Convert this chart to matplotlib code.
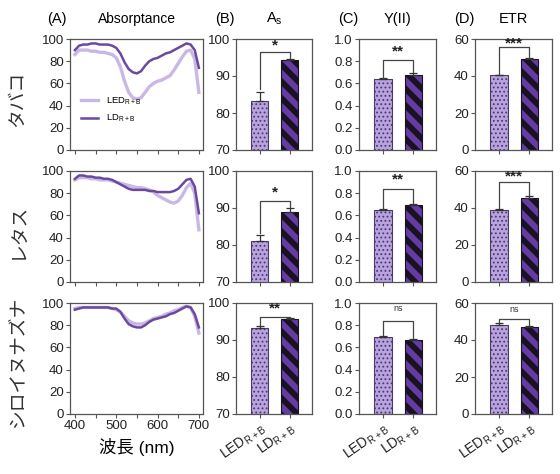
import numpy as np
import matplotlib
matplotlib.use("Agg")
import matplotlib.pyplot as plt

plt.rcParams["font.family"] = ["Liberation Sans", "Noto Sans CJK JP", "DejaVu Sans"]
plt.rcParams["axes.linewidth"] = 0.9
plt.rcParams["axes.edgecolor"] = "#555555"
plt.rcParams["xtick.color"] = "#555555"
plt.rcParams["ytick.color"] = "#555555"
plt.rcParams["xtick.labelcolor"] = "#222222"
plt.rcParams["ytick.labelcolor"] = "#222222"

LED_LINE = "#c9b8e4"
LD_LINE = "#6b4a9e"
LED_BAR = "#b9a2e0"
LD_BAR = "#643ca2"

species = ["タバコ", "レタス", "シロイヌナズナ"]
groups = ["LED$_{\\mathregular{R+B}}$", "LD$_{\\mathregular{R+B}}$"]

wavelength = [400, 410, 420, 430, 440, 450, 460, 470, 480, 490, 500,
              510, 520, 530, 540, 550, 560, 570, 580, 590, 600,
              610, 620, 630, 640, 650, 660, 670, 680, 690, 700]

tobacco_led = [86, 90, 90, 90, 89, 89, 88, 88, 87, 86, 83,
               75, 62, 52, 47, 46, 47, 52, 57, 60, 62,
               63, 65, 67, 72, 78, 84, 89, 90, 82, 52]
tobacco_ld = [90, 94, 95, 95, 96, 96, 95, 95, 95, 94, 92,
              87, 79, 73, 70, 69, 71, 76, 80, 82, 83,
              85, 87, 88, 90, 92, 94, 96, 95, 90, 74]
lettuce_led = [92, 94, 94, 94, 93, 93, 92, 92, 92, 91, 90,
               89, 88, 87, 86, 85, 85, 84, 83, 81, 78,
               76, 74, 72, 71, 73, 78, 85, 89, 80, 47]
lettuce_ld = [93, 96, 96, 95, 95, 94, 94, 93, 93, 92, 90,
              88, 86, 84, 83, 83, 83, 83, 82, 82, 81,
              81, 81, 81, 82, 84, 88, 92, 93, 86, 62]
arabid_led = [95, 96, 96, 96, 96, 96, 96, 96, 96, 95, 94,
              92, 88, 84, 82, 81, 81, 82, 84, 86, 87,
              88, 90, 91, 93, 94, 96, 97, 96, 88, 73]
arabid_ld = [94, 95, 96, 96, 96, 96, 96, 96, 96, 95, 95,
             92, 86, 81, 79, 78, 78, 80, 83, 85, 86,
             87, 88, 90, 91, 93, 95, 97, 96, 90, 78]
absorb_led = [tobacco_led, lettuce_led, arabid_led]
absorb_ld = [tobacco_ld, lettuce_ld, arabid_ld]

# bar means / SE per species: [LED, LD]
as_mean = [[83.2, 94.2], [81.0, 88.8], [93.3, 95.7]]
as_err = [[2.5, 0.4], [1.6, 1.3], [0.5, 0.3]]
y2_mean = [[0.64, 0.68], [0.65, 0.695], [0.69, 0.665]]
y2_err = [[0.005, 0.012], [0.006, 0.006], [0.01, 0.01]]
etr_mean = [[40.3, 49.0], [39.0, 45.5], [48.3, 47.2]]
etr_err = [[0.3, 0.6], [0.3, 0.8], [0.8, 0.6]]

as_sig = ["*", "*", "**"]
y2_sig = ["**", "**", "ns"]
etr_sig = ["***", "***", "ns"]

# bracket: (top, left arm end, right arm end, label y)
as_brk = [(96.5, 86.5, 94.8, 98.2), (92.0, 83.2, 90.3, 94.3), (96.3, 94.0, 96.0, 98.6)]
y2_brk = [(0.81, 0.65, 0.70, 0.89), (0.84, 0.665, 0.71, 0.92), (0.84, 0.71, 0.685, 0.95)]
etr_brk = [(55.5, 41.2, 50.0, 57.8), (54.0, 39.8, 46.8, 56.8), (51.5, 49.5, 48.2, 56.5)]

fig = plt.figure(figsize=(5.6, 4.74), dpi=100)
W, H = 560.0, 474.0
cols = [(70, 133), (236, 76), (359, 77), (475, 77)]
rows = [(39, 111), (171, 111), (303, 111)]


def add_ax(c, r):
    x0, w = cols[c]
    y0, h = rows[r]
    return fig.add_axes([x0 / W, 1 - (y0 + h) / H, w / W, h / H])


def bar_panel(ax, means, errs, ylim, yticks, sig, brk, show_labels):
    pos = [0, 1]
    for i, (m, e) in enumerate(zip(means, errs)):
        hlw = 0.8 if i == 0 else 4.2
        with plt.rc_context({"hatch.linewidth": hlw}):
            if i == 0:
                b = ax.bar(pos[i], m, width=0.58, color=LED_BAR, edgecolor="#4a3a66",
                           linewidth=0.8, hatch="....", zorder=2)
            else:
                b = ax.bar(pos[i], m, width=0.58, color=LD_BAR, edgecolor="#1a1222",
                           linewidth=0.8, hatch="\\\\", zorder=2)
        for p in b:
            if hasattr(p, "set_hatch_linewidth"):
                p.set_hatch_linewidth(hlw)
        ax.errorbar(pos[i], m, yerr=[[0], [e]], fmt="none", ecolor="#333333",
                    elinewidth=0.9, capsize=3, capthick=0.9, zorder=3)
    top, la, ra, ty = brk
    ax.plot([0, 0, 1, 1], [la, top, top, ra], color="#444444", lw=0.9, zorder=4)
    if sig == "ns":
        ax.text(0.5, ty, sig, ha="center", va="center", fontsize=6.5, color="#333333")
    else:
        ax.text(0.5, ty, sig, ha="center", va="center", fontsize=11, fontweight="bold",
                color="#222222")
    ax.set_xlim(-0.8, 1.75)
    ax.set_ylim(*ylim)
    ax.set_yticks(yticks)
    ax.set_xticks(pos)
    ax.tick_params(axis="both", labelsize=9.5, length=3, width=0.8, pad=1.5)
    if show_labels:
        ax.set_xticklabels(groups, rotation=35, ha="right", rotation_mode="anchor",
                           fontsize=10)
    else:
        ax.set_xticklabels([])


TY = 1.18
for r in range(3):
    ax = add_ax(0, r)
    ax.plot(wavelength, absorb_led[r], color=LED_LINE, lw=2.4, label=groups[0])
    ax.plot(wavelength, absorb_ld[r], color=LD_LINE, lw=1.8, label=groups[1])
    ax.set_xlim(388, 710)
    ax.set_ylim(0, 100)
    ax.set_xticks([400, 450, 500, 550, 600, 650, 700])
    ax.set_yticks([0, 20, 40, 60, 80, 100])
    ax.tick_params(axis="both", labelsize=9.5, length=3, width=0.8, pad=1.5)
    if r == 2:
        ax.set_xticklabels(["400", "", "500", "", "600", "", "700"])
        ax.set_xlabel("波長 (nm)", fontsize=12.5, labelpad=4)
    else:
        ax.set_xticklabels([])
    if r == 0:
        ax.legend(frameon=False, loc="center left", bbox_to_anchor=(0.02, 0.36),
                  fontsize=6.8, handlelength=1.8, labelspacing=0.6)
        ax.text(-0.17, TY, "(A)", transform=ax.transAxes, fontsize=10.5, va="center")
        ax.text(0.5, TY, "Absorptance", transform=ax.transAxes, fontsize=10,
                ha="center", va="center")
    fig.text(18 / W, 1 - (rows[r][0] + rows[r][1] / 2 + 4) / H, species[r],
             rotation=90, ha="center", va="center", fontsize=13.5, color="#333333")

    show = r == 2
    ax = add_ax(1, r)
    bar_panel(ax, as_mean[r], as_err[r], (70, 100), [70, 80, 90, 100], as_sig[r], as_brk[r], show)
    if r == 0:
        ax.text(-0.27, TY, "(B)", transform=ax.transAxes, fontsize=10.5, va="center")
        ax.text(0.5, TY, "A$_{\\mathregular{s}}$", transform=ax.transAxes, fontsize=10.5,
                ha="center", va="center")
    ax = add_ax(2, r)
    bar_panel(ax, y2_mean[r], y2_err[r], (0, 1.0), [0, 0.2, 0.4, 0.6, 0.8, 1.0],
              y2_sig[r], y2_brk[r], show)
    ax.set_yticklabels(["0.0", "0.2", "0.4", "0.6", "0.8", "1.0"])
    if r == 0:
        ax.text(-0.27, TY, "(C)", transform=ax.transAxes, fontsize=10.5, va="center")
        ax.text(0.5, TY, "Y(II)", transform=ax.transAxes, fontsize=10.5,
                ha="center", va="center")
    ax = add_ax(3, r)
    bar_panel(ax, etr_mean[r], etr_err[r], (0, 60), [0, 20, 40, 60], etr_sig[r], etr_brk[r], show)
    if r == 0:
        ax.text(-0.27, TY, "(D)", transform=ax.transAxes, fontsize=10.5, va="center")
        ax.text(0.5, TY, "ETR", transform=ax.transAxes, fontsize=10.5,
                ha="center", va="center")

fig.savefig("out.png", dpi=100)
